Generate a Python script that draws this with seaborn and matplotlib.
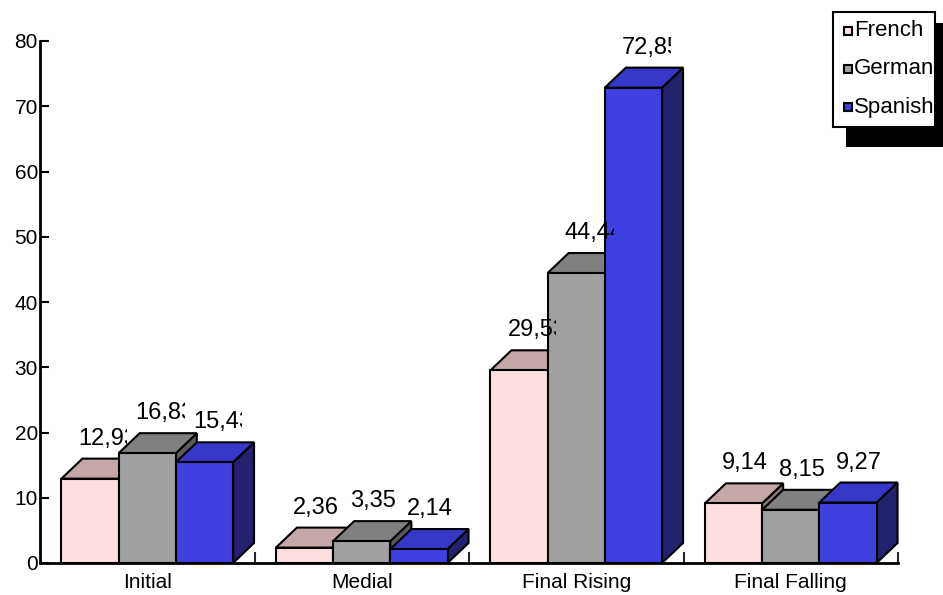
import numpy as np
import pandas as pd
import matplotlib
matplotlib.use("Agg")
import matplotlib.pyplot as plt
import seaborn as sns
from matplotlib.patches import Polygon, Rectangle
from matplotlib.transforms import Bbox, ScaledTranslation

# ---- data ----
categories = ["Initial", "Medial", "Final Rising", "Final Falling"]
languages = ["French", "German", "Spanish"]
french = [12.93, 2.36, 29.53, 9.14]
german = [16.83, 3.35, 44.44, 8.15]
spanish = [15.43, 2.14, 72.85, 9.27]
y_ticks = [0, 10, 20, 30, 40, 50, 60, 70, 80]

# ---- style ----
front_colors = ["#FCE0E0", "#A0A0A0", "#4040E0"]
top_colors = ["#C4A8A8", "#808080", "#3838C8"]
side_colors = ["#8A7878", "#5A5A5A", "#22226E"]

W, H, DPI = 943, 595, 100
sns.set_style("white")
plt.rcParams["font.family"] = ["Liberation Sans", "DejaVu Sans"]

fig = plt.figure(figsize=(W / DPI, H / DPI), dpi=DPI)
ax_l, ax_r, ax_b, ax_t = 40, 898, 563, 41
ax = fig.add_axes([ax_l / W, 1 - ax_b / H, (ax_r - ax_l) / W, (ax_b - ax_t) / H])

values = {"French": french, "German": german, "Spanish": spanish}
df = pd.DataFrame(
    [(c, lang, values[lang][i]) for lang in languages for i, c in enumerate(categories)],
    columns=["category", "language", "value"],
)

sns.barplot(data=df, x="category", y="value", hue="language", order=categories,
            hue_order=languages, palette=front_colors, saturation=1, width=0.8,
            edgecolor="black", linewidth=1.5, legend=False, errorbar=None, ax=ax)

ax.set_xlim(-0.5, len(categories) - 0.5)
ax.set_ylim(0, 80)
ax.set_xlabel("")
ax.set_ylabel("")

# depth offsets in data units (pixels -> data)
px_x = len(categories) / (ax_r - ax_l)
px_y = 80 / (ax_b - ax_t)
dx, dy = 21 * px_x, 20 * px_y

bars = []
for hi, cont in enumerate(ax.containers):
    for bar in cont:
        bars.append((bar.get_x(), hi, bar))
bars.sort(key=lambda t: t[0])

for rank, (x0, hi, bar) in enumerate(bars):
    w = bar.get_width()
    h = bar.get_height()
    x1 = x0 + w
    z = 2 + rank * 0.1
    side = Polygon([(x1, 0), (x1 + dx, dy), (x1 + dx, h + dy), (x1, h)], closed=True,
                   facecolor=side_colors[hi], edgecolor="black", linewidth=1.5,
                   zorder=z, clip_on=False)
    top = Polygon([(x0, h), (x0 + dx, h + dy), (x1 + dx, h + dy), (x1, h)], closed=True,
                  facecolor=top_colors[hi], edgecolor="black", linewidth=1.5,
                  zorder=z + 0.03, clip_on=False)
    ax.add_patch(side)
    ax.add_patch(top)
    bar.set_zorder(z + 0.06)

    label = f"{h:.2f}".replace(".", ",")
    trans = ax.transData + ScaledTranslation(17 / DPI, 40 / DPI, fig.dpi_scale_trans)
    t = ax.text(x0, h, label, transform=trans, ha="left", va="center",
                fontsize=17, zorder=20, color="black")
    xd = ax.transData.transform((x0, h))[0] + 17
    t.set_clip_path(None)
    t.set_clip_box(Bbox([[xd - 3, 0], [xd + 49, H]]))
    t.set_clip_on(True)

# axes styling
for s in ["top", "right"]:
    ax.spines[s].set_visible(False)
for s in ["left", "bottom"]:
    ax.spines[s].set_linewidth(2)
    ax.spines[s].set_color("black")
    ax.spines[s].set_zorder(10)

ax.set_yticks(y_ticks)
ax.set_yticklabels([str(v) for v in y_ticks])
ax.tick_params(axis="y", direction="in", length=6.5, width=1.5, labelsize=15, pad=1.5,
               colors="black", left=True)
ax.set_xticks(range(len(categories)))
ax.set_xticklabels(categories)
ax.tick_params(axis="x", which="major", length=0, pad=7, labelsize=15, colors="black")
ax.set_xticks([i + 0.5 for i in range(len(categories))], minor=True)
ax.tick_params(axis="x", which="minor", direction="in", length=8, width=1.5, bottom=True)

# ---- legend (manual, Excel-style box with shadow) ----
def fr(x, y, w, h):
    return (x / W, 1 - (y + h) / H), w / W, h / H

xy, w, h = fr(846, 23, 120, 124)
fig.patches.append(Rectangle(xy, w, h, transform=fig.transFigure, figure=fig,
                             facecolor="black", edgecolor="none", zorder=1))
xy, w, h = fr(833, 12, 102, 115)
fig.patches.append(Rectangle(xy, w, h, transform=fig.transFigure, figure=fig,
                             facecolor="white", edgecolor="black", linewidth=1.5, zorder=2))
for i, (lang, yc) in enumerate(zip(languages, [31, 69, 107])):
    xy, w, h = fr(844, yc - 4, 8, 8)
    fig.patches.append(Rectangle(xy, w, h, transform=fig.transFigure, figure=fig,
                                 facecolor=front_colors[i], edgecolor="black",
                                 linewidth=1.5, zorder=3))
    tt = fig.text(854 / W, 1 - yc / H, lang, ha="left", va="center", fontsize=16,
                  color="black", zorder=4)
    tt.set_clip_box(Bbox([[833, 0], [933, H]]))
    tt.set_clip_on(True)

fig.savefig("out.png", dpi=DPI, facecolor="white")
